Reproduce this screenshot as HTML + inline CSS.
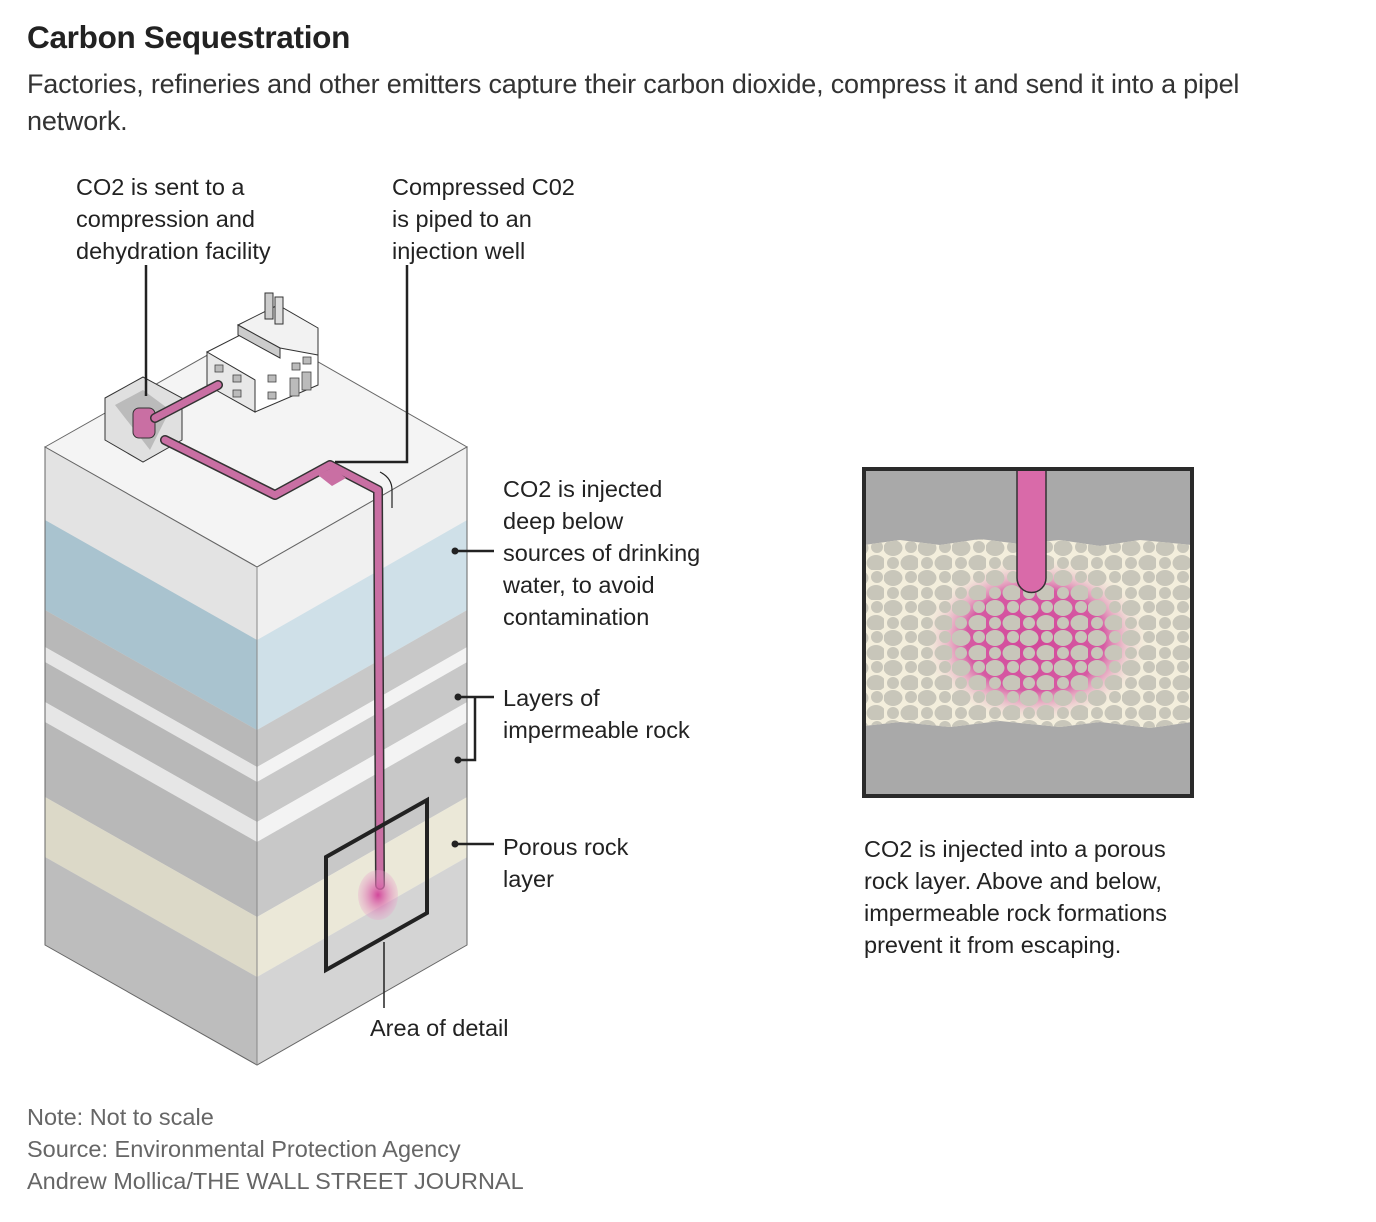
<!DOCTYPE html>
<html><head><meta charset="utf-8"><style>
body{margin:0;background:#fff;width:1376px;height:1222px;overflow:hidden;font-family:"Liberation Sans",sans-serif;color:#222}
.t{position:absolute;white-space:nowrap}
.lab{font-size:23.5px;line-height:32px;color:#222}
</style></head><body>
<div class="t" style="left:27px;top:19px;font-size:31.5px;font-weight:bold;color:#222;letter-spacing:-0.3px">Carbon Sequestration</div>
<div class="t" style="left:27px;top:66px;font-size:27px;line-height:37px;color:#333;letter-spacing:-0.2px">Factories, refineries and other emitters capture their carbon dioxide, compress it and send it into a pipel<br>network.</div>
<div class="t lab" style="left:76px;top:171px">CO2 is sent to a<br>compression and<br>dehydration facility</div>
<div class="t lab" style="left:392px;top:171px">Compressed C02<br>is piped to an<br>injection well</div>
<div class="t lab" style="left:503px;top:473px">CO2 is injected<br>deep below<br>sources of drinking<br>water, to avoid<br>contamination</div>
<div class="t lab" style="left:503px;top:682px">Layers of<br>impermeable rock</div>
<div class="t lab" style="left:503px;top:831px">Porous rock<br>layer</div>
<div class="t lab" style="left:370px;top:1012px">Area of detail</div>
<div class="t lab" style="left:864px;top:833px">CO2 is injected into a porous<br>rock layer. Above and below,<br>impermeable rock formations<br>prevent it from escaping.</div>
<div class="t lab" style="left:27px;top:1101px;color:#666;font-size:23.5px">Note: Not to scale<br>Source: Environmental Protection Agency<br>Andrew Mollica/THE WALL STREET JOURNAL</div>

<svg width="1376" height="1222" style="position:absolute;left:0;top:0">
<defs>
<clipPath id="lf"><polygon points="45,447 257,567 257,1065 45,945"/></clipPath>
<clipPath id="rf"><polygon points="257,567 467,447 467,945 257,1065"/></clipPath>
<pattern id="peb" width="34" height="30" patternUnits="userSpaceOnUse">
<ellipse cx="9" cy="8" rx="9.5" ry="8" fill="#c8c6ba"/>
<ellipse cx="26" cy="23" rx="9.5" ry="8" fill="#c8c6ba"/>
<ellipse cx="27" cy="7" rx="6" ry="6" fill="#c8c6ba"/>
<ellipse cx="9" cy="23" rx="6" ry="6" fill="#c8c6ba"/>
</pattern>
<radialGradient id="pg"><stop offset="0" stop-color="#d2479a"/><stop offset="0.6" stop-color="#d65aa3"/><stop offset="1" stop-color="#f3eedc" stop-opacity="0"/></radialGradient>
<radialGradient id="pg2"><stop offset="0" stop-color="#d2479a"/><stop offset="1" stop-color="#e8a5cb" stop-opacity="0.3"/></radialGradient>
</defs>
<polygon points="45,447 257,327 467,447 257,567" fill="#f4f4f4" stroke="#666" stroke-width="1"/>
<g clip-path="url(#lf)">
<rect x="40" y="440" width="220" height="630" fill="#e3e3e3"/>
<g transform="matrix(1,0.566,0,1,0,-25.5)">
<rect x="40" y="520" width="220" height="90" fill="#a9c3cf"/>
<rect x="40" y="610" width="220" height="37" fill="#b8b8b8"/>
<rect x="40" y="647" width="220" height="15" fill="#e6e6e6"/>
<rect x="40" y="662" width="220" height="40" fill="#b8b8b8"/>
<rect x="40" y="702" width="220" height="20" fill="#e6e6e6"/>
<rect x="40" y="722" width="220" height="75" fill="#b8b8b8"/>
<rect x="40" y="797" width="220" height="60" fill="#dcd9c8"/>
<rect x="40" y="857" width="220" height="100" fill="#bdbdbd"/>
</g></g>
<g clip-path="url(#rf)">
<rect x="250" y="440" width="220" height="630" fill="#f0f0f0"/>
<g transform="matrix(1,-0.571,0,1,0,146.8)">
<rect x="250" y="640" width="220" height="90" fill="#cfe0e8"/>
<rect x="250" y="730" width="220" height="37" fill="#c8c8c8"/>
<rect x="250" y="767" width="220" height="15" fill="#f3f3f3"/>
<rect x="250" y="782" width="220" height="40" fill="#c8c8c8"/>
<rect x="250" y="822" width="220" height="20" fill="#f3f3f3"/>
<rect x="250" y="842" width="220" height="75" fill="#c8c8c8"/>
<rect x="250" y="917" width="220" height="60" fill="#ebe8d8"/>
<rect x="250" y="977" width="220" height="100" fill="#d4d4d4"/>
</g></g>
<polygon points="45,447 257,567 467,447 467,945 257,1065 45,945" fill="none" stroke="#666" stroke-width="1"/>
<line x1="257" y1="567" x2="257" y2="1065" stroke="#888"/>
<!-- factory -->
<polygon points="207,352 250,330 318,355 318,385 255,412 255,380" fill="#fff" stroke="#333"/>
<polygon points="207,352 255,380 255,412 207,385" fill="#e8e8e8" stroke="#333"/>
<polygon points="238,325 278,305 318,328 318,355 280,348" fill="#f2f2f2" stroke="#333"/>
<polygon points="238,325 280,348 280,358 238,335" fill="#ccc" stroke="#333"/>
<rect x="265" y="293" width="8" height="26" fill="#ccc" stroke="#333"/>
<rect x="275" y="297" width="8" height="27" fill="#ddd" stroke="#333"/>
<g fill="#bbb" stroke="#444" stroke-width="0.8">
<rect x="215" y="365" width="8" height="7"/><rect x="233" y="375" width="8" height="7"/><rect x="233" y="390" width="8" height="7"/>
<rect x="268" y="375" width="8" height="7"/><rect x="268" y="392" width="8" height="7"/><rect x="292" y="363" width="8" height="7"/><rect x="303" y="357" width="8" height="7"/>
<rect x="290" y="378" width="9" height="18"/><rect x="302" y="372" width="9" height="18"/>
</g>
<!-- compressor -->
<polygon points="105,398 143,377 182,398 182,440 143,462 105,440" fill="#e0e0e0" stroke="#333"/>
<polygon points="115,405 143,390 170,410 150,450" fill="#bbb"/>
<rect x="133" y="408" width="22" height="30" rx="6" fill="#c96fa3" stroke="#333"/>
<g fill="none" stroke-linecap="round" stroke-linejoin="round">
<path d="M165,440 L275,495 L330,465 L378,490 L380,885" stroke="#333" stroke-width="10"/>
<path d="M165,440 L275,495 L330,465 L378,490 L380,885" stroke="#c96fa3" stroke-width="7"/>
<path d="M155,418 L218,385" stroke="#333" stroke-width="10"/>
<path d="M155,418 L218,385" stroke="#c96fa3" stroke-width="7"/>
</g>
<polygon points="318,475 332,468 346,478 332,486" fill="#c96fa3"/>
<ellipse cx="378" cy="895" rx="20" ry="25" fill="url(#pg2)"/>
<polygon points="326,857 427,800 427,913 326,970" fill="none" stroke="#222" stroke-width="4"/>
<g stroke="#222" stroke-width="2.5" fill="none">
<path d="M146,265 V396"/>
<path d="M407,265 V462 H335"/>
<path d="M455,551 H494"/>
<path d="M458,697 H494 M475,697 V760 H458"/>
<path d="M455,844 H494"/>
<path d="M384,942 V1008" stroke-width="1.5"/>
<path d="M380,472 Q392,478 392,490 V508" stroke-width="1.2"/>
</g>
<g fill="#222"><circle cx="455" cy="551" r="3.5"/><circle cx="458" cy="697" r="3.5"/><circle cx="458" cy="760" r="3.5"/><circle cx="455" cy="844" r="3.5"/></g>
<rect x="864" y="469" width="328" height="327" fill="#a9a9a9"/>
<path d="M864,545 L900,540 L940,545 L980,539 L1020,544 L1060,540 L1100,546 L1140,540 L1192,545 L1192,722 L1150,728 L1100,722 L1060,727 L1000,721 L950,727 L900,722 L864,726 Z" fill="#f3eedc"/>
<ellipse cx="1035" cy="640" rx="115" ry="85" fill="url(#pg)"/>
<path d="M864,545 L900,540 L940,545 L980,539 L1020,544 L1060,540 L1100,546 L1140,540 L1192,545 L1192,722 L1150,728 L1100,722 L1060,727 L1000,721 L950,727 L900,722 L864,726 Z" fill="url(#peb)"/>
<path d="M1017,469 V578 A14.5,14.5 0 0 0 1046,578 V469 Z" fill="#d96aa9" stroke="#333" stroke-width="1.5"/>
<rect x="864" y="469" width="328" height="327" fill="none" stroke="#2a2a2a" stroke-width="4"/>
</svg>
</body></html>
